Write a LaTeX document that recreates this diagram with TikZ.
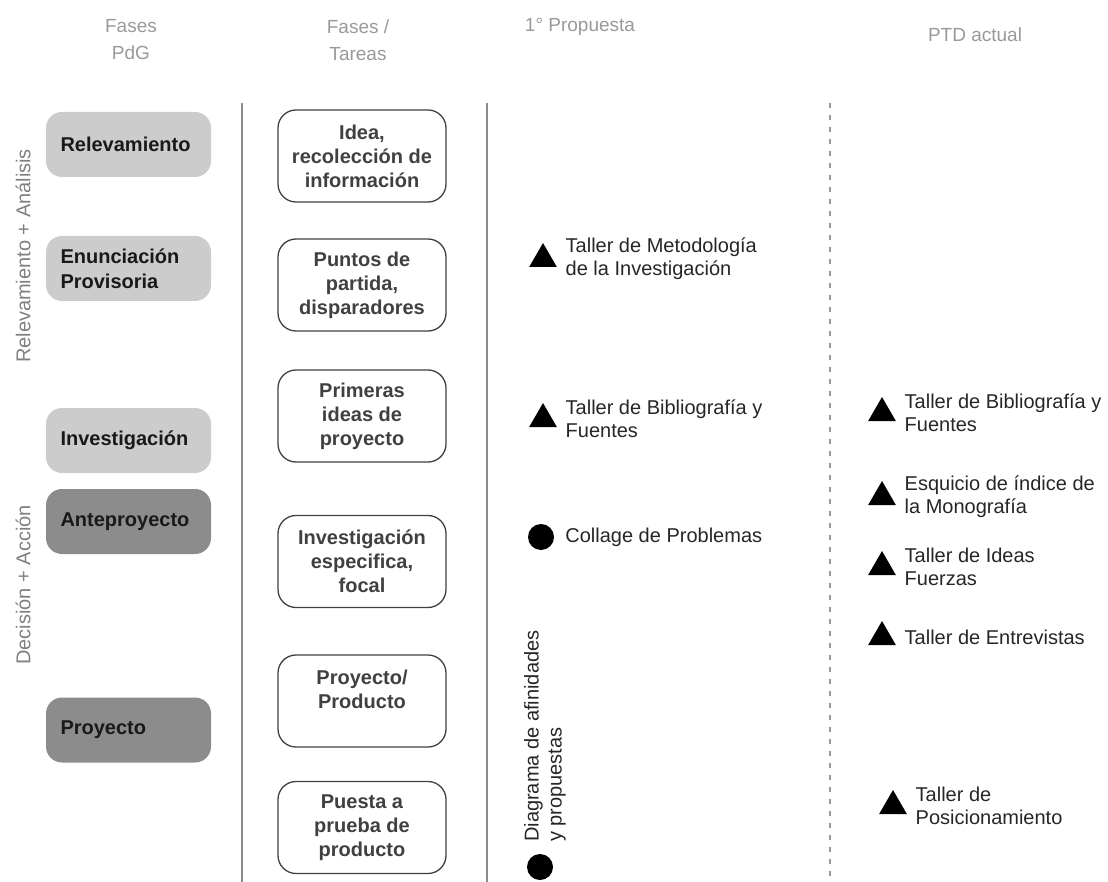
\documentclass[tikz,border=0pt]{standalone}
\usepackage{fontspec}
\setmainfont{Liberation Sans}
\usepackage{xcolor}
\usepackage{tikz}
\usetikzlibrary{positioning,shapes.geometric}

\begin{document}
\begin{tikzpicture}[
  x=1pt, y=-1pt,
  hdr/.style={font=\fontsize{19}{27}\selectfont, text=black!40, align=center},
  side/.style={rotate=90, font=\fontsize{20}{24}\selectfont, text=black!50},
  phase/.style={rounded corners=16pt, minimum width=165pt, minimum height=65pt, text width=136pt, align=left, font=\bfseries\fontsize{20}{25}\selectfont, text=black!90},
  light/.style={phase, fill=black!20},
  dark/.style={phase, fill=black!45},
  task/.style={draw=black!75, line width=1.3pt, rounded corners=18pt, minimum width=168pt, minimum height=92pt, align=center, font=\bfseries\fontsize{20}{24}\selectfont, text=black!75},
  tri/.style={regular polygon, regular polygon sides=3, fill=black, minimum size=32pt, inner sep=0pt},
  dot/.style={circle, fill=black, minimum size=26pt, inner sep=0pt},
  item/.style={font=\fontsize{20}{23}\selectfont, align=left, inner sep=0pt, text=black!85},
  sep/.style={black!45, line width=1.2pt},
  dsep/.style={black!40, line width=1.2pt, dash pattern=on 5pt off 7pt},
]
\useasboundingbox (0,0) rectangle (1108,882);

% Headers
\node[hdr] (h1) at (131,40) {Fases\\PdG};
\node[hdr] (h2) at (358,40) {Fases /\\Tareas};
\node[hdr] (h3) at (580,27) {1° Propuesta};
\node[hdr] (h4) at (975,35) {PTD actual};

% Column separators
\draw[sep] (242,103) -- (242,882);
\draw[sep] (487,103) -- (487,882);
\draw[dsep] (830,103) -- (830,882);

% Side labels
\node[side] (ra) at (23,256) {Relevamiento + Análisis};
\node[side] (da) at (23,585) {Decisión + Acción};

% Phases PdG
\node[light] (relev) at (128.5,144.5) {Relevamiento};
\node[light] (enunc) at (128.5,268.5) {Enunciación\\Provisoria};
\node[light] (invest) at (128.5,440.5) {Investigación};
\node[dark] (antep) at (128.5,521.5) {Anteproyecto};
\node[dark] (proy) at (128.5,730) {Proyecto};

% Tasks
\node[task] (idea) at (362,156) {Idea,\\recolección de\\información};
\node[task] (puntos) at (362,285) {Puntos de\\partida,\\disparadores};
\node[task] (prim) at (362,416) {Primeras\\ideas de\\proyecto};
\node[task] (espec) at (362,561.5) {Investigación\\especifica,\\focal};
\node[task] (prod) at (362,701) {Proyecto/\\Producto\\\mbox{}};
\node[task] (prueba) at (362,827.5) {Puesta a\\prueba de\\producto};

% 1° Propuesta
\node[tri] (tmet) at (543,259) {};
\node[item, right=13pt of tmet] (lmet) {Taller de Metodología\\de la Investigación};
\node[tri] (tbib) at (543,419) {};
\node[item, right=13pt of tbib] (lbib) {Taller de Bibliografía y\\Fuentes};
\node[dot] (dcol) at (541,537) {};
\node[item, right=11pt of dcol] (lcol) {Collage de Problemas};
\node[item, rotate=90, anchor=west] (ldiag) at (545,842) {Diagrama de afinidades\\y propuestas};
\node[dot] (ddiag) at (540,867) {};

% PTD actual
\node[tri] (tbib2) at (882,413) {};
\node[item, right=13pt of tbib2] (lbib2) {Taller de Bibliografía y\\Fuentes};
\node[tri] (tesq) at (882,497) {};
\node[item, right=13pt of tesq] (lesq) {Esquicio de índice de\\la Monografía};
\node[tri] (tide) at (882,567) {};
\node[item, right=13pt of tide] (lide) {Taller de Ideas\\Fuerzas};
\node[tri] (tent) at (882,637) {};
\node[item, right=13pt of tent] (lent) {Taller de Entrevistas};
\node[tri] (tpos) at (893,806) {};
\node[item, right=13pt of tpos] (lpos) {Taller de\\Posicionamiento};
\end{tikzpicture}
\end{document}
